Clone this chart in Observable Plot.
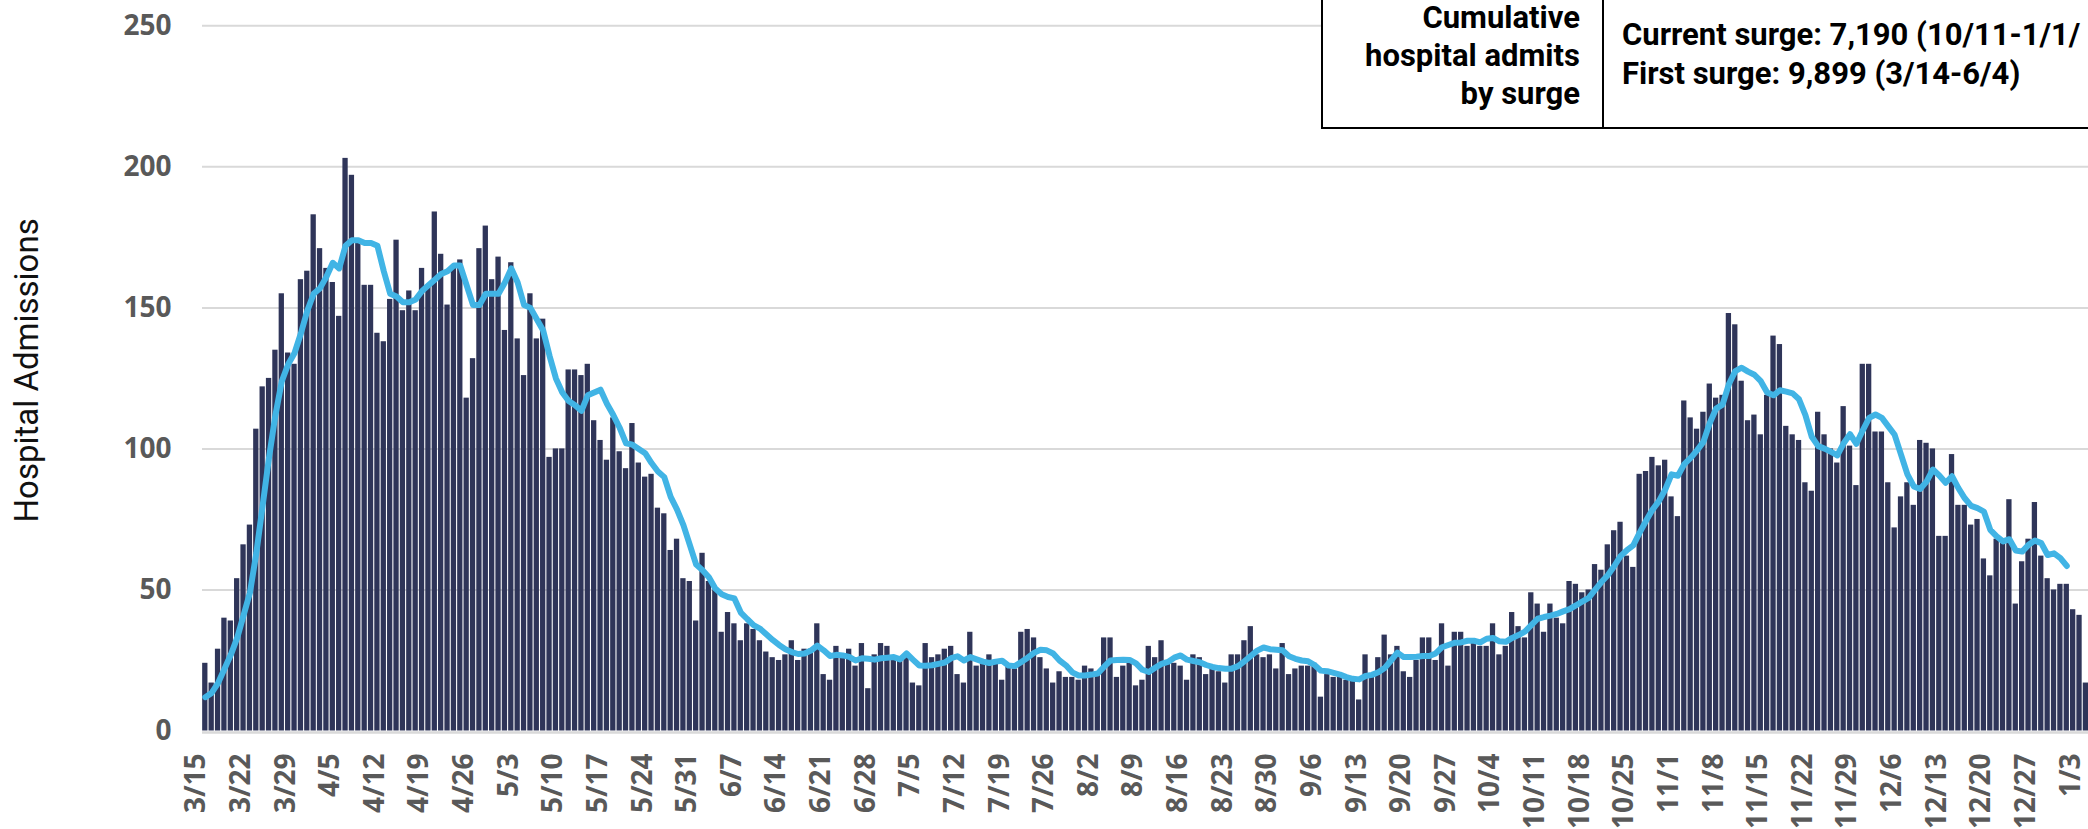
<!DOCTYPE html>
<html>
<head>
<meta charset="utf-8">
<script src="https://cdn.jsdelivr.net/npm/d3@7"></script>
<script src="https://cdn.jsdelivr.net/npm/@observablehq/plot@0.6"></script>
<style>
  html, body { margin: 0; padding: 0; background: #fff; overflow: hidden; }
  #wrap { position: relative; width: 2088px; height: 829px; overflow: hidden; }
  #box { position: absolute; left: 1321px; top: -10px; width: 900px; height: 139px; box-sizing: border-box;
         border: 2px solid #000; background: #fff; font-family: Roboto, sans-serif; font-weight: 700; font-size: 31px; color: #000; }
  #box .l { position: absolute; right: calc(900px - 281px + 20px); text-align: right; white-space: nowrap; line-height: 1.15; }
  #box .r { position: absolute; left: 299px; white-space: nowrap; line-height: 1.15; }
  #box .div { position: absolute; left: 279px; top: 0; bottom: 0; border-left: 2px solid #000; }
</style>
</head>
<body>
<div id="wrap">
  <div id="chart"></div>
  <div id="box">
    <div class="div"></div>
    <div class="l" style="top:8px">Cumulative</div>
    <div class="l" style="top:46px">hospital admits</div>
    <div class="l" style="top:84px">by surge</div>
    <div class="r" style="top:25px">Current surge: 7,190 (10/11-1/1/</div>
    <div class="r" style="top:64px">First surge: 9,899 (3/14-6/4)</div>
  </div>
</div>
<script>
// Daily hospital admissions, one value per day starting 3/15 (2020) through 1/4 (2021)
const admissions = [
  24, 17, 29, 40, 39, 54, 66, 73, 107, 122,
  125, 135, 155, 134, 130, 160, 163, 183, 171, 164,
  159, 147, 203, 197, 173, 158, 158, 141, 138, 153,
  174, 149, 156, 149, 164, 158, 184, 169, 151, 165,
  167, 118, 132, 171, 179, 160, 168, 142, 166, 139,
  126, 155, 139, 146, 97, 100, 100, 128, 128, 126,
  130, 110, 103, 96, 111, 99, 93, 109, 95, 90,
  91, 79, 77, 64, 68, 54, 53, 39, 63, 53,
  50, 35, 42, 38, 32, 38, 36, 32, 28, 26,
  25, 27, 32, 25, 29, 29, 38, 20, 18, 30,
  26, 29, 23, 31, 15, 27, 31, 30, 25, 25,
  27, 17, 16, 31, 26, 27, 29, 30, 20, 17,
  35, 23, 24, 27, 24, 18, 23, 22, 35, 36,
  33, 26, 22, 17, 21, 19, 19, 18, 23, 22,
  20, 33, 33, 19, 23, 24, 16, 18, 30, 26,
  32, 24, 24, 23, 18, 27, 26, 20, 22, 21,
  17, 27, 27, 32, 37, 27, 26, 27, 22, 31,
  20, 22, 23, 23, 24, 12, 20, 19, 19, 18,
  18, 11, 27, 19, 26, 34, 27, 30, 21, 19,
  25, 33, 33, 25, 38, 23, 35, 35, 30, 32,
  30, 30, 38, 27, 30, 42, 37, 33, 49, 45,
  35, 45, 40, 38, 53, 52, 49, 50, 59, 57,
  66, 71, 74, 62, 58, 91, 92, 97, 94, 96,
  83, 76, 117, 111, 107, 113, 123, 118, 119, 148,
  144, 124, 110, 112, 105, 119, 140, 137, 108, 105,
  103, 88, 85, 113, 105, 100, 95, 115, 101, 87,
  130, 130, 106, 106, 88, 72, 83, 88, 80, 103,
  102, 100, 69, 69, 98, 80, 80, 73, 75, 61,
  55, 68, 67, 82, 45, 60, 68, 81, 62, 54,
  50, 52, 52, 43, 41, 17
];

// Rolling average line, 3/15 through 1/2
const rollingAvg = [
  12, 13.5, 17, 22, 27, 33, 41, 49, 63, 80,
  97, 112, 124, 130, 134, 141, 149, 155, 157, 161,
  166, 164, 172, 174, 174, 173, 173, 172, 163, 155,
  154, 152, 152, 153, 156, 158, 160, 162, 163, 165,
  165, 158, 151, 151, 155, 155, 155, 159, 164, 159,
  151, 150, 146, 142, 133, 125, 120, 117, 115.5, 113.5,
  119, 120, 121, 116, 112, 107.5, 102, 101.5, 100, 98.5,
  95, 92, 90, 83, 78.5, 73, 66, 59, 57, 54.5,
  50.5, 48.5, 47.5, 47, 42, 39.7, 37.5, 36.3, 34.3, 32.3,
  30.5, 29, 28, 27.3, 27.5, 28.5, 30.3, 28.6, 26.6, 27,
  26.8, 26.3, 25, 25.8, 25.6, 25.3, 25.8, 26, 26.2, 25.4,
  27.5, 25.3, 23.2, 23.1, 23.3, 23.8, 24.3, 25.8, 26.5, 25,
  26.2, 25.4, 24.6, 24.1, 24.6, 24.9, 23.2, 23, 24.5, 26,
  27.7, 28.8, 28.6, 27.5, 25, 23.3, 20.8, 19.7, 19.7, 20,
  20.4, 22.8, 25, 25.2, 25.3, 25.2, 24, 21.7, 20.9, 22.4,
  23.8, 24.5, 26, 26.8, 25.3, 24.8, 24.4, 23.4, 22.7, 22.3,
  22.1, 22.1, 23, 24.7, 26.6, 28.5, 29.6, 29, 28.8, 28.6,
  26.5, 25.6, 25, 24.7, 23.4, 21.4, 21.2, 20.6, 20, 19.1,
  18.5, 18.3, 19.5, 19.9, 20.8, 22.3, 25, 27.8, 26.2, 26.2,
  26.3, 26.6, 26.6, 27.5, 29.7, 30.5, 31.3, 31.4, 32, 32,
  31.4, 32.7, 33, 31.8, 31.6, 33, 34, 35.2, 37.5, 39.8,
  40.4, 40.9, 41.5, 42.4, 43.2, 44.5, 45.9, 47.2, 50, 52.8,
  55.2, 58.4, 62, 64.1, 65.8, 70.3, 74.5, 78.4, 81.4, 85.5,
  91, 90.5, 94.6, 96.8, 99.5, 102.5, 109.2, 114.3, 115.7, 123,
  127.6, 128.8, 127.4, 126.3, 124, 120, 119, 120.8, 120.3, 119.7,
  117.6, 112, 104.3, 101, 100.1, 99, 97.7, 102, 105.2, 101.8,
  106.6, 111, 112.2, 111, 108, 105, 98, 91, 86.7, 85.8,
  88.4, 92.7, 90.6, 88, 90.3, 86.1, 82.5, 79.8, 79, 77.8,
  71.3, 69, 67.2, 68, 64, 63.6, 66, 67.5, 66.6, 62.4,
  63, 61.3, 58.5
];

// Weekly x-axis tick labels (every 7th day from 3/15)
const tickLabels = ["3/15","3/22","3/29","4/5","4/12","4/19","4/26","5/3","5/10","5/17","5/24","5/31",
  "6/7","6/14","6/21","6/28","7/5","7/12","7/19","7/26","8/2","8/9","8/16","8/23","8/30",
  "9/6","9/13","9/20","9/27","10/4","10/11","10/18","10/25","11/1","11/8","11/15","11/22",
  "11/29","12/6","12/13","12/20","12/27","1/3"];

const yTicks = [0, 50, 100, 150, 200, 250];
const yTitle = "Hospital Admissions";

const bars = admissions.map((v, i) => ({i, v}));
const line = rollingAvg.map((v, i) => ({i, v}));
const ticks = tickLabels.map((label, j) => ({i: j * 7, label}));

const half = 0.415;
const chart = Plot.plot({
  width: 2088,
  height: 829,
  marginTop: 25.3,
  marginBottom: 98.5,
  marginLeft: 202,
  marginRight: 0,
  style: {background: "#fff", overflow: "hidden"},
  x: {type: "linear", domain: [0, 295], range: [204.8, 2085.4], axis: null},
  y: {domain: [0, 250], axis: null},
  marks: [
    Plot.ruleY(yTicks.filter(d => d > 0), {stroke: "#d9d9d9", strokeWidth: 2}),
    Plot.rectY(bars, {x1: d => d.i - half, x2: d => d.i + half, y: "v", fill: "#2f3559"}),
    Plot.ruleY([0], {stroke: "#d9d9d9", strokeWidth: 2.5, dy: 1.5}),
    Plot.line(line, {x: "i", y: "v", stroke: "#41b4e5", strokeWidth: 6, strokeLinejoin: "round", strokeLinecap: "round"}),
    Plot.text(yTicks, {y: d => d, text: d => String(d), frameAnchor: "left", dx: -31, textAnchor: "end",
      fontFamily: "Open Sans", fontWeight: "bold", fontSize: 28, fill: "#595959"}),
    Plot.text(ticks, {x: "i", text: "label", frameAnchor: "bottom", dy: 22.5, rotate: -90, textAnchor: "end",
      fontFamily: "Open Sans", fontWeight: "bold", fontSize: 28, fill: "#595959"}),
    Plot.text([yTitle], {frameAnchor: "left", dx: -175, dy: -8, rotate: -90, textAnchor: "middle",
      fontFamily: "Roboto", fontSize: 33, fill: "#111"})
  ]
});
document.getElementById("chart").appendChild(chart);
</script>
</body>
</html>
